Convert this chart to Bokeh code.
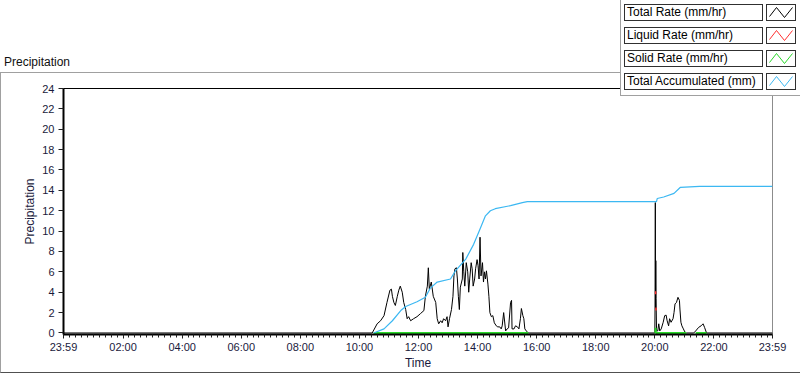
from bokeh.plotting import figure
from bokeh.models import FixedTicker, LinearAxis, Range1d, GridBox, Div
from bokeh.embed import file_html
from bokeh.resources import INLINE

NaN = float("nan")

# ---------------- data (time = minutes after midnight) ----------------
total_time = [-1, 626, 636, 643, 650, 656, 662, 665, 667, 670, 673, 677, 680, 683, 687, 690, 694, 697, 700,
              704, 710, 717, 724, 731, 734, 738, 740, 742, 746, 750, 755, 758, 761, 765, 768, 771, 775, 778,
              780, 783, 787, 790, 792, 794, 797, 799, 801, 803, 805, 809, 810, 812, 814, 817, 820, 822, 824,
              827, 829, 831, 834, 836, 839, 841, 843, 845, 847, 850, 852, 854, 856, 858, 861, 863, 865, 868,
              871, 874, 878, 881, 885, 888, 890, 893, 897, 900, 903, 907, 909, 910, 914, 917, 921, 924, 927,
              929, 932, 934, 936, 939, 943,
              1200.0, 1200.4, 1201.0, 1201.5, 1202.0, 1202.5, 1203.5, 1206, 1208, 1210, 1213, 1217, 1220,
              1223, 1225, 1228, 1230, 1233, 1237, 1239, 1241, 1244, 1247, 1250, 1251, 1253, 1255, 1258,
              1261, 1264, 1279, 1283, 1289, 1294, 1298, 1301, 1305, 1439]
total_rate = [0, 0, 0.9, 1.2, 1.7, 3.0, 4.2, 4.3, 3.6, 3.0, 2.7, 3.6, 4.2, 4.6, 4.0, 3.0, 2.3, 1.4, 1.6,
              1.2, 1.4, 1.6, 1.9, 2.2, 3.6, 4.6, 6.4, 4.3, 5.0, 3.6, 3.0, 1.4, 0.9, 1.2, 1.0, 1.4, 1.2, 1.6,
              0.6, 1.4, 2.3, 3.6, 5.6, 6.3, 6.4, 5.3, 3.6, 2.3, 4.5, 5.3, 7.9, 6.0, 4.6, 6.9, 6.0, 4.0, 5.3,
              6.9, 6.3, 4.6, 5.3, 6.3, 7.2, 6.6, 5.3, 9.4, 5.6, 6.9, 5.0, 6.0, 5.3, 6.1, 4.8, 3.6, 2.0, 1.6,
              1.7, 1.0, 0.7, 0.6, 0.6, 0.4, 0.7, 2.0, 0.2, 0.4, 0.5, 3.0, 3.2, 0.4, 0.4, 0.7, 0.6, 0.4, 1.4,
              2.4, 1.7, 1.4, 0.4, 0.2, 0.0,
              0, 2.35, 12.8, 2.4, 7.1, 3.4, 0.2, 0.2, 0.9, 0.2, 0.4, 1.05, 1.7,
              1.75, 1.2, 0.7, 1.4, 1.05, 1.4, 2.0, 2.85, 3.0, 3.5, 3.2, 2.35, 1.05, 0.7, 0.4,
              0.1, 0, 0, 0.2, 0.55, 0.7, 0.9, 0.55, 0, 0]

liquid_time = [1201.5, 1201.6, NaN, 1202.3, 1202.4]
liquid_rate = [4.1, 3.8, NaN, 2.5, 2.2]

solid_time = [629, 943, NaN, 1201.0, 1201.6, 1202.2, 1264, NaN, 1283, 1305]
solid_rate = [0, 0, NaN, 0, 0.5, 0, 0, NaN, 0, 0]

accum_time = [629, 650, 667, 684, 694, 717, 734, 744, 758, 785, 795, 816, 832, 845, 856, 866, 876, 907,
              931, 941, 1203.4, 1204.8, 1218, 1239, 1252, 1291, 1439]
accum_total = [0, 0.4, 1.2, 2.2, 2.6, 3.07, 3.5, 4.4, 5.0, 5.3, 6.1, 7.25, 8.7, 10.2, 11.5, 12.0, 12.2, 12.5,
               12.8, 12.9, 12.9, 13.2, 13.35, 13.7, 14.3, 14.4, 14.4]

x_tick_minutes = [-1, 120, 240, 360, 480, 600, 720, 840, 960, 1080, 1200, 1320, 1439]
x_tick_labels = ["23:59", "02:00", "04:00", "06:00", "08:00", "10:00", "12:00", "14:00", "16:00",
                 "18:00", "20:00", "22:00", "23:59"]
x_minor_minutes = [m for m in range(12, 1439, 12) if m % 120 != 0]
y_ticks = [0, 2, 4, 6, 8, 10, 12, 14, 16, 18, 20, 22, 24]

chart_caption = "Precipitation"
legend_labels = ["Total Rate (mm/hr)", "Liquid Rate (mm/hr)", "Solid Rate (mm/hr)", "Total Accumulated (mm)"]
legend_colors = ["#000000", "#ff3030", "#2ad82a", "#3cb8f2"]

FONT = "Liberation Sans"
TXT = "#1a1a3c"
W, H = 800, 373

# ---------------- main chart ----------------
p = figure(width=W, height=H, output_backend="svg", toolbar_location=None,
           x_range=Range1d(-1, 1439), y_range=Range1d(-0.15, 24),
           min_border_left=63, min_border_right=28, min_border_top=88, min_border_bottom=39,
           x_axis_label="Time", y_axis_label="Precipitation")
p.grid.visible = False
p.background_fill_color = "white"
p.border_fill_color = "white"
p.outline_line_color = "#8c8c8c"
p.outline_line_width = 1

xa = p.xaxis[0]
xa.ticker = FixedTicker(ticks=x_tick_minutes, minor_ticks=x_minor_minutes)
xa.major_label_overrides = {m: s for m, s in zip(x_tick_minutes, x_tick_labels)}
ya = p.yaxis[0]
ya.ticker = FixedTicker(ticks=y_ticks)
for ax in (xa, ya):
    ax.axis_line_color = "black"
    ax.axis_line_width = 2
    ax.major_tick_line_color = "#202020"
    ax.major_tick_out = 5
    ax.major_tick_in = 0
    ax.major_label_text_font = FONT
    ax.major_label_text_font_size = "11px"
    ax.major_label_text_color = TXT
    ax.axis_label_text_font = FONT
    ax.axis_label_text_font_size = "12px"
    ax.axis_label_text_font_style = "normal"
    ax.axis_label_text_color = TXT
xa.minor_tick_line_color = "#202020"
xa.minor_tick_out = 3
xa.minor_tick_in = 0
xa.major_tick_out = 4
xa.major_label_standoff = 2
xa.axis_label_standoff = 0
ya.minor_tick_line_color = None
ya.major_label_standoff = 4
ya.axis_label_standoff = 2

top_axis = LinearAxis(ticker=FixedTicker(ticks=[]), axis_line_color="black", axis_line_width=1,
                      major_tick_line_color=None, minor_tick_line_color=None)
p.add_layout(top_axis, "above")

p.line(total_time, total_rate, line_color=legend_colors[0], line_width=1)
p.line(liquid_time, liquid_rate, line_color=legend_colors[1], line_width=1.5)
p.line(solid_time, solid_rate, line_color=legend_colors[2], line_width=2)
p.line(accum_time, accum_total, line_color=legend_colors[3], line_width=1.2)

# ---------------- overlay: caption, outer frame and boxed legend (HTML) ----------------
parts = ['<div style="position:relative;width:800px;height:373px;overflow:hidden;'
         "font-family:'Liberation Sans',Arial,sans-serif;\">"]
parts.append('<div style="position:absolute;left:0px;top:72px;width:800px;height:301px;box-sizing:border-box;'
             'border-left:1px solid #a0a0a0;border-top:1px solid #a0a0a0;border-bottom:1px solid #505050;"></div>')
parts.append('<div style="position:absolute;left:4px;top:55px;font-size:12px;line-height:14px;color:#101010;'
             'white-space:nowrap;">%s</div>' % chart_caption)
parts.append('<div style="position:absolute;left:620px;top:0px;width:180px;height:96px;box-sizing:border-box;'
             'background:white;border-left:1px solid #a0a0a0;border-bottom:1px solid #a0a0a0;"></div>')
for i, (lab, col) in enumerate(zip(legend_labels, legend_colors)):
    top = 4 + 23 * i
    parts.append('<div style="position:absolute;left:624px;top:%dpx;width:139px;height:17px;box-sizing:border-box;'
                 'border:1px solid #303030;background:white;font-size:12px;line-height:15px;color:black;'
                 'padding-left:2px;white-space:nowrap;">%s</div>' % (top, lab))
    parts.append('<div style="position:absolute;left:766px;top:%dpx;width:30px;height:17px;box-sizing:border-box;'
                 'border:1px solid #303030;background:white;">'
                 '<svg width="28" height="15" style="position:absolute;left:0px;top:0px;">'
                 '<polyline points="2.5,11.5 9.5,2.5 17.5,12.5 25.5,2.5" fill="none" stroke="%s" stroke-width="1"/>'
                 '</svg></div>' % (top, col))
parts.append('</div>')
overlay = Div(text="".join(parts), width=W, height=H, margin=0)

layout = GridBox(children=[(p, 0, 0), (overlay, 0, 0)])

open("out.html", "w").write(file_html(layout, INLINE))
